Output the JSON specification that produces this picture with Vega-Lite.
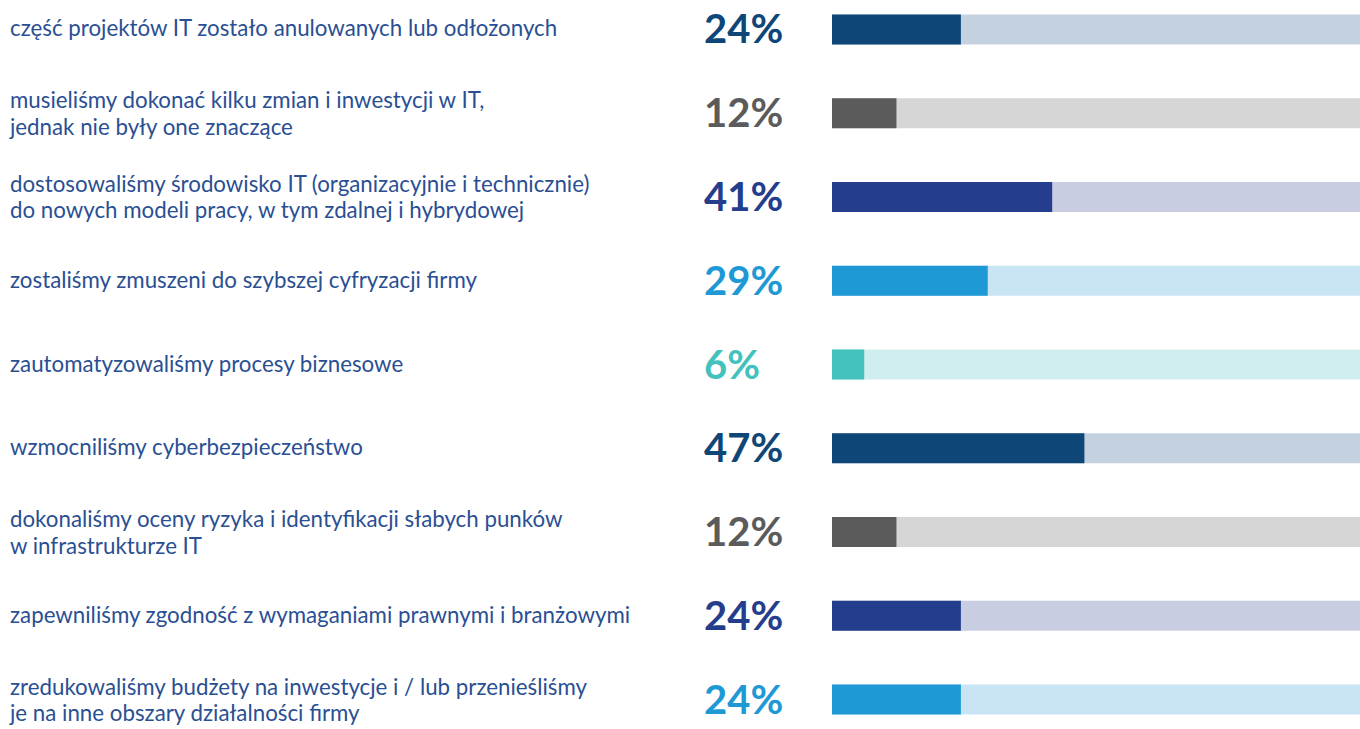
{
  "$schema": "https://vega.github.io/schema/vega-lite/v6.json",
  "autosize": {"type": "none"},
  "width": 1360,
  "height": 729,
  "padding": 0,
  "background": "white",
  "config": {"view": {"stroke": null}},
  "data": {"values": [
    {"id": "1", "label": "część projektów IT zostało anulowanych lub odłożonych", "value": 0.24, "group": "navy"},
    {"id": "2", "label": "musieliśmy dokonać kilku zmian i inwestycji w IT,\njednak nie były one znaczące", "value": 0.12, "group": "gray"},
    {"id": "3", "label": "dostosowaliśmy środowisko IT (organizacyjnie i technicznie)\ndo nowych modeli pracy, w tym zdalnej i hybrydowej", "value": 0.41, "group": "indigo"},
    {"id": "4", "label": "zostaliśmy zmuszeni do szybszej cyfryzacji firmy", "value": 0.29, "group": "blue"},
    {"id": "5", "label": "zautomatyzowaliśmy procesy biznesowe", "value": 0.06, "group": "teal"},
    {"id": "6", "label": "wzmocniliśmy cyberbezpieczeństwo", "value": 0.47, "group": "navy"},
    {"id": "7", "label": "dokonaliśmy oceny ryzyka i identyfikacji słabych punków\nw infrastrukturze IT", "value": 0.12, "group": "gray"},
    {"id": "8", "label": "zapewniliśmy zgodność z wymaganiami prawnymi i branżowymi", "value": 0.24, "group": "indigo"},
    {"id": "9", "label": "zredukowaliśmy budżety na inwestycje i / lub przenieśliśmy\nje na inne obszary działalności firmy", "value": 0.24, "group": "blue"}
  ]},
  "encoding": {
    "y": {"field": "id", "type": "nominal", "sort": null, "axis": null,
          "scale": {"paddingInner": 0.642, "paddingOuter": 0.173, "round": false}}
  },
  "layer": [
    {
      "mark": {"type": "bar", "cornerRadius": 0, "clip": true},
      "encoding": {
        "x": {"datum": 0, "type": "quantitative", "scale": {"domain": [-1.5493, 0.9832], "nice": false, "zero": false}, "axis": null},
        "x2": {"datum": 1},
        "color": {"field": "group", "type": "nominal", "legend": null,
                  "scale": {"domain": ["navy", "gray", "indigo", "blue", "teal"],
                            "range": ["#c4d2df", "#d6d6d6", "#c8cde2", "#c8e4f5", "#d1eeee"]}}
      }
    },
    {
      "mark": {"type": "bar", "cornerRadius": 0},
      "encoding": {
        "x": {"field": "value", "type": "quantitative", "scale": {"domain": [-1.5493, 0.9832], "nice": false, "zero": false}, "axis": null},
        "x2": {"datum": 0},
        "color": {"field": "group", "type": "nominal", "legend": null,
                  "scale": {"domain": ["navy", "gray", "indigo", "blue", "teal"],
                            "range": ["#0e4677", "#5b5b5b", "#243d8c", "#1e99d5", "#43c1bd"]}}
      }
    },
    {
      "mark": {"type": "text", "align": "left", "baseline": "middle", "font": "Lato", "fontWeight": "bold", "fontSize": 40, "dy": 2},
      "encoding": {
        "x": {"datum": -0.2384, "type": "quantitative"},
        "text": {"field": "value", "type": "quantitative", "format": ".0%"},
        "color": {"field": "group", "type": "nominal", "legend": null,
                  "scale": {"domain": ["navy", "gray", "indigo", "blue", "teal"],
                            "range": ["#0e4677", "#5b5b5b", "#243d8c", "#1e99d5", "#43c1bd"]}}
      }
    },
    {
      "transform": [{"filter": "indexof(datum.label, '\\n') < 0"}],
      "mark": {"type": "text", "align": "left", "baseline": "middle", "font": "Lato", "fontSize": 22.3, "color": "#2a4f93", "dy": 0},
      "encoding": {
        "x": {"datum": -1.5307, "type": "quantitative"},
        "text": {"field": "label", "type": "nominal"}
      }
    },
    {
      "transform": [{"filter": "indexof(datum.label, '\\n') >= 0"}],
      "mark": {"type": "text", "align": "left", "baseline": "middle", "font": "Lato", "fontSize": 22.3, "lineBreak": "\n", "lineHeight": 26.5, "color": "#2a4f93", "dy": -12},
      "encoding": {
        "x": {"datum": -1.5307, "type": "quantitative"},
        "text": {"field": "label", "type": "nominal"}
      }
    }
  ],
  "resolve": {"scale": {"color": "independent"}}
}
